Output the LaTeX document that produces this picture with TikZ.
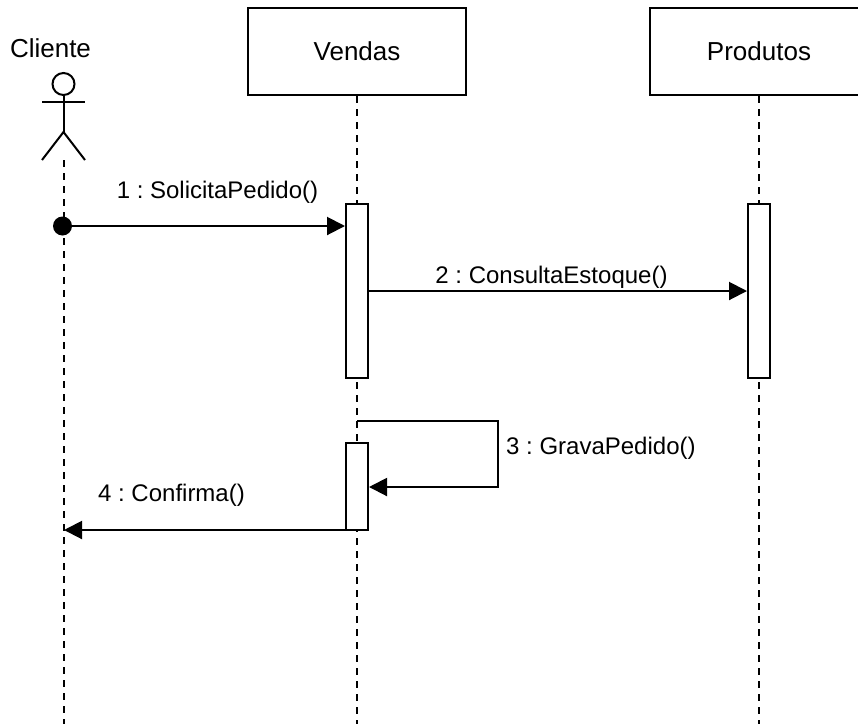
\documentclass[tikz,border=0pt]{standalone}
\usepackage{fontspec}
\setmainfont{Liberation Sans}
\frenchspacing
\usetikzlibrary{arrows.meta,calc}
\tikzset{
  x=1pt,y=-1pt,
  line/.style={draw=black,line width=2pt},
  lifebox/.style={line,fill=white,minimum width=218pt,minimum height=87pt,inner sep=0pt,font=\fontsize{26}{30}\selectfont},
  lifeline/.style={line,dash pattern=on 7pt off 6pt},
  activation/.style={line,fill=white,minimum width=22pt,inner sep=0pt,anchor=north},
  msg/.style={line,-{Triangle[length=18pt,width=18pt]},shorten >=0pt},
  msglabel/.style={inner sep=0pt,font=\fontsize{24}{28}\selectfont},
}
\begin{document}
\begin{tikzpicture}
\useasboundingbox (0,0) rectangle (858,724);
\clip (0,0) rectangle (858,724);
\fill[white] (0,0) rectangle (858,724);
% free ends
\coordinate (end1) at (63.5,724);
\coordinate (end2) at (357,724);
\coordinate (end3) at (759,724);
% lifelines
\node[lifebox] (vendas) at (357,51.5) {Vendas};
\node[lifebox] (produtos) at (759,51.5) {Produtos};
\node[inner sep=0pt,font=\fontsize{26}{30}\selectfont] (cliente) at (50.5,48) {Cliente};
\node[circle,line,fill=white,minimum size=22pt,inner sep=0pt] (head) at (63.5,84) {};
\coordinate (hips) at (63.5,132);
\coordinate (armL) at (42,102);
\coordinate (armR) at (85,102);
\coordinate (legL) at (42,160);
\coordinate (legR) at (85,160);
\draw[line] (head.south) -- (hips);
\draw[line] (armL) -- (armR);
\draw[line] (legL) -- (hips) -- (legR);
\coordinate (feet) at (63.5,160);
\draw[lifeline] (feet) -- (end1);
\draw[lifeline] (vendas.south) -- (end2);
\draw[lifeline] (produtos.south) -- (end3);
% activations
\node[activation,minimum height=174pt] (a1) at (357,203.2) {};
\node[activation,minimum height=174pt] (a2) at (759,203.2) {};
\node[activation,minimum height=87pt] (a3) at (357,441.8) {};
% messages
\node[circle,fill=black,minimum size=19pt,inner sep=0pt] (start) at (62.5,226) {};
\draw[msg] (start.center) -- (a1.west |- start.center);
\coordinate (m2) at (368,291);
\draw[msg] (a1.east |- m2) -- (a2.west |- m2);
\coordinate (s1) at (357,421);
\coordinate (s2) at (498,421);
\coordinate (s3) at (498,487);
\draw[msg] (s1) -- (s2) -- (s3) -- (a3.east |- s3);
\coordinate (m4) at (64,530);
\draw[msg] (a3.west |- m4) -- (m4);
% labels
\node[msglabel] (l1) at (217.5,192) {1 : SolicitaPedido()};
\node[msglabel] (l2) at (551.5,277.4) {2 : ConsultaEstoque()};
\node[msglabel,anchor=west] (l3) at (506,448.7) {3 : GravaPedido()};
\node[msglabel] (l4) at (171.5,495.2) {4 : Confirma()};
\end{tikzpicture}
\end{document}
